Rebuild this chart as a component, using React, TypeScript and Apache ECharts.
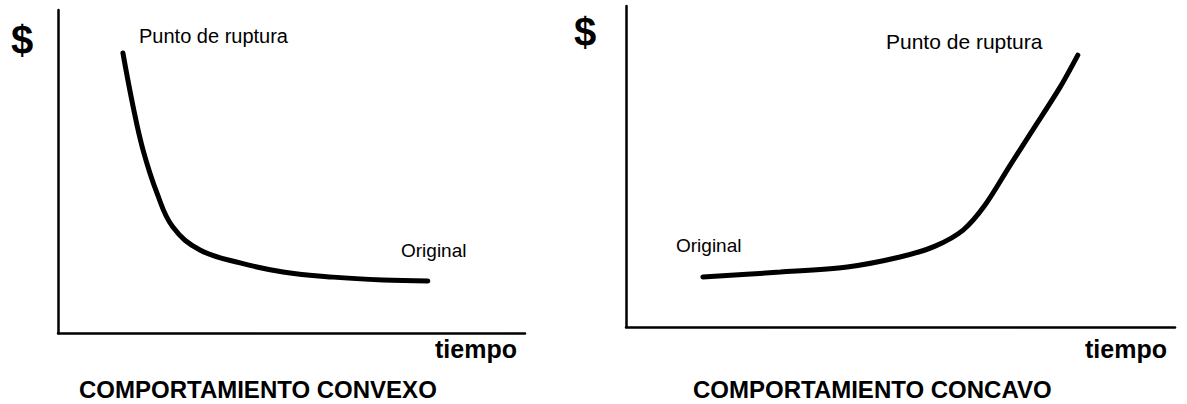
import React, { useEffect, useRef } from "react";
import * as echarts from "echarts";

// Convex behaviour (left): time vs cost
const convexTime = [13.9, 16.1, 18.2, 21.2, 24.6, 30.4, 39.0, 48.2, 58.9, 69.6, 79.2];
const convexCost = [86.7, 70.0, 56.7, 43.3, 32.8, 25.7, 21.7, 18.9, 17.3, 16.4, 16.1];

// Concave behaviour (right): time vs cost
const concaveTime = [14.0, 28.1, 40.3, 49.9, 56.3, 61.4, 65.4, 69.9, 74.1, 79.1, 82.3];
const concaveCost = [15.6, 17.1, 18.7, 21.8, 25.2, 30.2, 38.0, 50.2, 61.4, 74.8, 84.7];

const titles = ["COMPORTAMIENTO CONVEXO", "COMPORTAMIENTO CONCAVO"];
const axisNameX = "tiempo";
const axisNameY = "$";
const breakLabel = "Punto de ruptura";
const originLabel = "Original";

const FONT = "'Liberation Sans', Arial, sans-serif";

export default function App() {
  const ref = useRef<HTMLDivElement>(null);
  useEffect(() => {
    document.body.style.margin = "0";
    if (!ref.current) return;
    const chart = echarts.init(ref.current, null, { renderer: "svg" });
    const axisLine = { show: true, lineStyle: { color: "#000", width: 2.5 } };
    const hidden = {
      axisTick: { show: false },
      axisLabel: { show: false },
      splitLine: { show: false },
    };
    const lineStyle = { color: "#000", width: 5, cap: "round" as const };
    const txt = (text: string, x: number, y: number, size: number, bold: boolean) => ({
      type: "text",
      x,
      y,
      style: {
        text,
        fill: "#000",
        font: `${bold ? "bold " : ""}${size}px ${FONT}`,
        verticalAlign: "middle",
        align: "left",
      },
    });
    chart.setOption({
      animation: false,
      backgroundColor: "#fff",
      grid: [
        { left: 58, top: 10, width: 467, height: 323 },
        { left: 626, top: 6, width: 549, height: 321 },
      ],
      xAxis: [
        { type: "value", gridIndex: 0, min: 0, max: 100, axisLine, ...hidden },
        { type: "value", gridIndex: 1, min: 0, max: 100, axisLine, ...hidden },
      ],
      yAxis: [
        { type: "value", gridIndex: 0, min: 0, max: 100, axisLine, ...hidden },
        { type: "value", gridIndex: 1, min: 0, max: 100, axisLine, ...hidden },
      ],
      series: [
        {
          type: "line",
          xAxisIndex: 0,
          yAxisIndex: 0,
          data: convexTime.map((t, i) => [t, convexCost[i]]),
          smooth: 0.4,
          showSymbol: false,
          lineStyle,
        },
        {
          type: "line",
          xAxisIndex: 1,
          yAxisIndex: 1,
          data: concaveTime.map((t, i) => [t, concaveCost[i]]),
          smooth: 0.3,
          showSymbol: false,
          lineStyle,
        },
      ],
      graphic: [
        txt(axisNameY, 11, 40, 40, true),
        txt(axisNameY, 574, 32, 40, true),
        txt(breakLabel, 139, 36, 20, false),
        txt(breakLabel, 886, 41, 21, false),
        txt(originLabel, 401, 250, 19, false),
        txt(originLabel, 676, 245, 19, false),
        txt(axisNameX, 435, 349, 25, true),
        txt(axisNameX, 1085, 349, 25, true),
        txt(titles[0], 79, 389, 24, true),
        txt(titles[1], 693, 389, 24, true),
      ],
    });
    return () => chart.dispose();
  }, []);
  return <div ref={ref} style={{ width: 1187, height: 404 }} />;
}
